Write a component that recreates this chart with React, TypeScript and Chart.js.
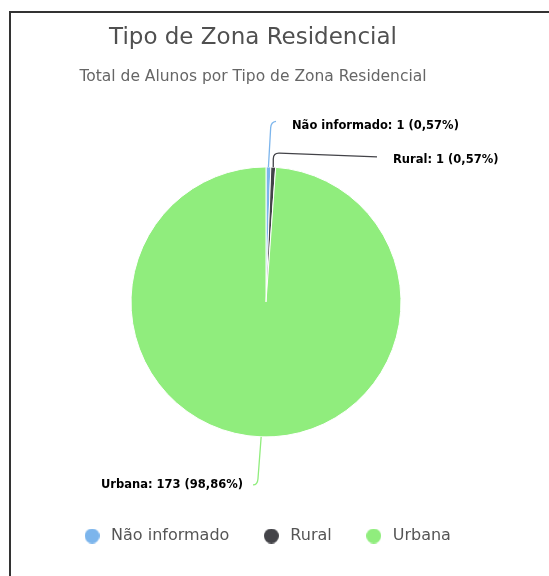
import React, { useEffect, useRef } from "react";
import { Chart, registerables, layouts } from "chart.js";

Chart.register(...registerables);

// ---- data ----
const TITLE = "Tipo de Zona Residencial";
const SUBTITLE = "Total de Alunos por Tipo de Zona Residencial";
const categories = ["Não informado", "Rural", "Urbana"];
const values = [1, 1, 173];

// ---- styles ----
const COLORS = ["#7cb5ec", "#434348", "#90ed7d"];
const FONT = "'DejaVu Sans', Verdana, sans-serif";
// label anchor, connector elbow and connector end, relative to the pie centre (px)
const LABEL_LAYOUT = [
  { align: "left", at: [26, -176], elbow: [5, -180], end: [10, -180.5] },
  { align: "left", at: [127, -142], elbow: [7.3, -149], end: [111, -145] },
  { align: "right", at: [-23, 183], elbow: [-8.5, 183], end: [-13, 183] },
];
const SPACER_WIDTH = 26;

function fmtPct(v: number, total: number) {
  return (Math.round((v / total) * 10000) / 100).toFixed(2).replace(".", ",") + "%";
}

function dot(color: string, d: number) {
  const c = document.createElement("canvas");
  c.width = d;
  c.height = d;
  const g = c.getContext("2d")!;
  g.fillStyle = color;
  g.beginPath();
  g.arc(d / 2, d / 2, d / 2, 0, Math.PI * 2);
  g.fill();
  return c;
}

const leftSpacer = {
  id: "leftSpacer",
  afterInit(chart: any) {
    const box: any = {
      position: "left",
      weight: 100,
      fullSize: false,
      options: {},
      left: 0,
      top: 0,
      right: 0,
      bottom: 0,
      width: 0,
      height: 0,
      isHorizontal: () => false,
      update(_mw: number, mh: number) {
        box.width = SPACER_WIDTH;
        box.height = mh;
      },
      draw() {},
    };
    layouts.addBox(chart, box);
  },
};

const pieLabels = {
  id: "pieLabels",
  afterDatasetsDraw(chart: any) {
    const meta = chart.getDatasetMeta(0);
    const ctx = chart.ctx as CanvasRenderingContext2D;
    const data = chart.data.datasets[0].data as number[];
    const total = data.reduce((a, b) => a + b, 0);
    meta.data.forEach((arc: any, i: number) => {
      const { x, y, startAngle, endAngle, outerRadius } = arc.getProps(
        ["x", "y", "startAngle", "endAngle", "outerRadius"],
        true
      );
      const mid = (startAngle + endAngle) / 2;
      const px = x + Math.cos(mid) * outerRadius;
      const py = y + Math.sin(mid) * outerRadius;
      const L = LABEL_LAYOUT[i];
      const ex = x + L.elbow[0];
      const ey = y + L.elbow[1];
      const tx = x + L.end[0];
      const ty = y + L.end[1];
      const d1 = Math.hypot(ex - px, ey - py) || 1;
      const r1 = Math.min(6, d1 / 2);
      const ax = ex - ((ex - px) / d1) * r1;
      const ay = ey - ((ey - py) / d1) * r1;
      const d2 = Math.hypot(tx - ex, ty - ey) || 1;
      const r2 = Math.min(6, d2);
      const bx = ex + ((tx - ex) / d2) * r2;
      const by = ey + ((ty - ey) / d2) * r2;
      ctx.save();
      ctx.strokeStyle = COLORS[i];
      ctx.lineWidth = 1.3;
      ctx.beginPath();
      ctx.moveTo(px, py);
      ctx.lineTo(ax, ay);
      ctx.quadraticCurveTo(ex, ey, bx, by);
      ctx.lineTo(tx, ty);
      ctx.stroke();
      ctx.font = `bold 11.5px ${FONT}`;
      ctx.fillStyle = "#000";
      ctx.textAlign = L.align as CanvasTextAlign;
      ctx.textBaseline = "middle";
      const text = `${chart.data.labels[i]}: ${data[i]} (${fmtPct(data[i], total)})`;
      ctx.fillText(text, x + L.at[0], y + L.at[1]);
      ctx.restore();
    });
  },
};

export default function App() {
  const ref = useRef<HTMLCanvasElement>(null);
  useEffect(() => {
    if (!ref.current) return;
    const chart = new Chart(ref.current, {
      type: "pie",
      data: {
        labels: categories,
        datasets: [
          {
            data: values,
            backgroundColor: COLORS,
            borderColor: "#ffffff",
            borderWidth: 1,
            radius: 135,
          } as any,
        ],
      },
      options: {
        responsive: false,
        animation: false,
        layout: { padding: { left: 0, right: 43, top: 0, bottom: 22 } },
        plugins: {
          tooltip: { enabled: false },
          title: {
            display: true,
            text: TITLE,
            color: "#505050",
            font: { family: FONT, size: 23, weight: "normal" },
            padding: { top: 24, bottom: 8 },
          },
          subtitle: {
            display: true,
            text: SUBTITLE,
            color: "#666666",
            font: { family: FONT, size: 15.5, weight: "normal" },
            padding: { top: 7.7, bottom: 21 },
          },
          legend: {
            position: "bottom",
            fullSize: false,
            labels: {
              usePointStyle: true,
              pointStyleWidth: 22,
              boxHeight: 15,
              padding: 31,
              color: "#555555",
              font: { family: FONT, size: 16 },
              generateLabels(chart: any) {
                const base = (Chart as any).overrides.doughnut.plugins.legend.labels.generateLabels(chart);
                return base.map((it: any, i: number) => ({
                  ...it,
                  pointStyle: dot(COLORS[i], 15),
                  lineWidth: 0,
                }));
              },
            },
          },
        },
      },
      plugins: [leftSpacer, pieLabels],
    });
    return () => chart.destroy();
  }, []);

  return (
    <div
      style={{
        position: "fixed",
        left: 0,
        top: 0,
        width: 549,
        height: 576,
        background: "#fff",
        overflow: "hidden",
      }}
    >
      <div
        style={{
          position: "absolute",
          left: 9,
          top: 11,
          width: 600,
          height: 600,
          borderLeft: "2px solid #333",
          borderTop: "2px solid #333",
        }}
      />
      <canvas
        ref={ref}
        width={549}
        height={576}
        style={{ position: "absolute", left: 0, top: 0, display: "block" }}
      />
    </div>
  );
}
